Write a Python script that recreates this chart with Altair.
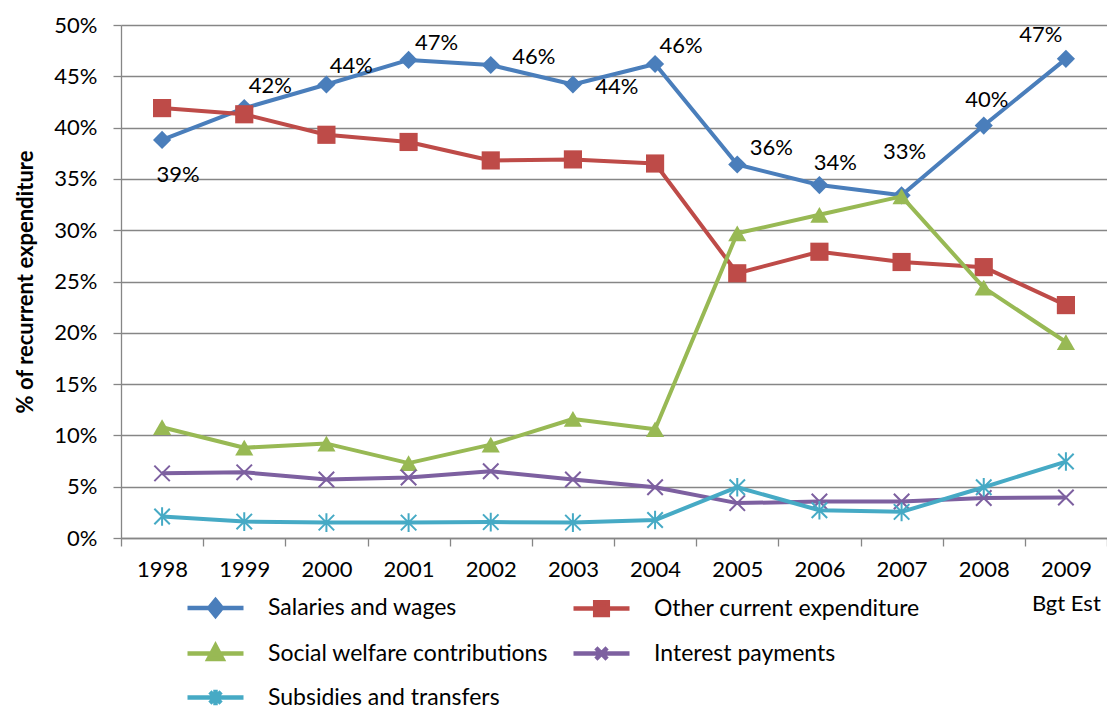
import altair as alt
import pandas as pd

years = ["1998", "1999", "2000", "2001", "2002", "2003", "2004", "2005", "2006", "2007", "2008", "2009"]
series_names = ["Salaries and wages", "Other current expenditure", "Social welfare contributions",
                "Interest payments", "Subsidies and transfers"]
salaries = [38.8, 41.9, 44.2, 46.6, 46.1, 44.2, 46.2, 36.4, 34.4, 33.4, 40.2, 46.7]
other = [41.9, 41.3, 39.3, 38.6, 36.8, 36.9, 36.5, 25.8, 27.9, 26.9, 26.4, 22.7]
social = [10.8, 8.8, 9.2, 7.3, 9.1, 11.6, 10.6, 29.7, 31.5, 33.3, 24.4, 19.1]
interest = [6.3, 6.4, 5.7, 5.9, 6.5, 5.7, 4.95, 3.4, 3.55, 3.55, 3.9, 3.95]
subsidies = [2.1, 1.6, 1.5, 1.5, 1.55, 1.5, 1.75, 4.95, 2.7, 2.55, 4.95, 7.45]

colors = ["#4A7EBB", "#BE4B48", "#98B954", "#7D60A0", "#46AAC5"]

# label nudges for the salary data labels (pixels)
label_nudge = {
    "1998": (16, 35), "1999": (26, -22), "2000": (25, -19), "2001": (28, -17),
    "2002": (43, -8), "2003": (44, 2), "2004": (26, -18), "2005": (34, -17),
    "2006": (16, -22), "2007": (3, -43), "2008": (3, -26), "2009": (-25, -24),
}

FONT = "Lato"
all_values = [salaries, other, social, interest, subsidies]
rows = []
for name, vals in zip(series_names, all_values):
    for y, v in zip(years, vals):
        rows.append({"year": y, "series": name, "value": v})
df = pd.DataFrame(rows)

x_enc = alt.X("year:N", sort=years,
              scale=alt.Scale(type="band", paddingInner=0, paddingOuter=0),
              axis=alt.Axis(title=None, labelAngle=0, tickBand="extent", tickSize=8,
                            tickColor="#868686", domainColor="#868686", domainWidth=1.3,
                            tickWidth=1.3, labelFontSize=22, labelFont=FONT, labelColor="black",
                            labelPadding=13, labelLineHeight=34, grid=False,
                            labelExpr="datum.label == '2009' ? ['2009', 'Bgt Est'] : datum.label"))
y_enc = alt.Y("value:Q", scale=alt.Scale(domain=[0, 50], nice=False),
              axis=alt.Axis(title="% of recurrent expenditure", values=list(range(0, 51, 5)),
                            labelExpr="datum.value + '%'", grid=True, gridColor="#868686",
                            gridWidth=1.3, domainColor="#868686", domainWidth=1.3,
                            tickColor="#868686", tickWidth=1.3, tickSize=8,
                            labelFontSize=22, labelFont=FONT, labelColor="black", labelPadding=16,
                            titleFontSize=22, titleFont=FONT, titleFontWeight="bold",
                            titleColor="black", titlePadding=16))

shapes = ["diamond", "square", "triangle-up",
          "M-1,-1L1,1M-1,1L1,-1",
          "M-1,-1L1,1M-1,1L1,-1M0,-1.2L0,1.2"]
sizes = [330, 330, 330, 240, 240]
filled = [True, True, True, False, False]

layers = []
for name, col, shp, sz, fl in zip(series_names, colors, shapes, sizes, filled):
    base = alt.Chart(df).transform_filter(alt.datum.series == name)
    line = base.mark_line(color=col, strokeWidth=4, strokeJoin="round").encode(x=x_enc, y=y_enc)
    if fl:
        pts = base.mark_point(shape=shp, size=sz, filled=True, color=col, opacity=1).encode(x=x_enc, y=y_enc)
    else:
        pts = base.mark_point(shape=shp, size=sz, filled=False, color=col, strokeWidth=2, opacity=1).encode(x=x_enc, y=y_enc)
    layers += [line, pts]

# data labels on salaries
for yr, (dx, dy) in label_nudge.items():
    t = (alt.Chart(df)
         .transform_filter((alt.datum.series == series_names[0]) & (alt.datum.year == yr))
         .transform_calculate(lbl="format(datum.value, '.0f') + '%'")
         .mark_text(font=FONT, fontSize=22, color="black", dx=dx, dy=dy, align="center", baseline="middle")
         .encode(x=x_enc, y=y_enc, text="lbl:N"))
    layers.append(t)

legend_paths = [
    "M-2,0L2,0M0,-0.55L0.45,0L0,0.55L-0.45,0Z",
    "M-2,0L2,0M-0.45,-0.45L0.45,-0.45L0.45,0.45L-0.45,0.45Z",
    "M-2,0L2,0M0,-0.55L0.5,0.4L-0.5,0.4Z",
    "M-2,0L2,0M-0.4,-0.4L0.4,0.4M-0.4,0.4L0.4,-0.4",
    "M-2,0L2,0M-0.4,-0.4L0.4,0.4M-0.4,0.4L0.4,-0.4M0,-0.55L0,0.55",
]
leg = alt.Legend(title=None, orient="none", legendX=78, legendY=566, columns=2,
                 direction="horizontal",
                 columnPadding=16, rowPadding=11, labelFontSize=23, labelFont=FONT,
                 labelColor="black", labelOffset=36, labelLimit=0, symbolSize=784,
                 symbolStrokeWidth=4.5, padding=0, symbolOpacity=1)
legend_layer = (alt.Chart(df)
                .transform_filter(alt.datum.value < -100)
                .mark_point(filled=True, strokeWidth=4.5, opacity=1)
                .encode(x=x_enc, y=y_enc,
                        shape=alt.Shape("series:N", scale=alt.Scale(domain=series_names, range=legend_paths), legend=leg),
                        fill=alt.Fill("series:N", scale=alt.Scale(domain=series_names, range=colors), legend=leg),
                        stroke=alt.Stroke("series:N", scale=alt.Scale(domain=series_names, range=colors), legend=leg)))
layers.append(legend_layer)

chart = (alt.layer(*layers)
         .properties(width=986, height=513,
                     autosize=alt.AutoSizeParams(type="none"),
                     padding={"left": 113, "top": 17, "right": 0, "bottom": 175})
         .configure_view(stroke=None))

chart.save("out.html", embed_options={"renderer": "svg", "actions": False})
